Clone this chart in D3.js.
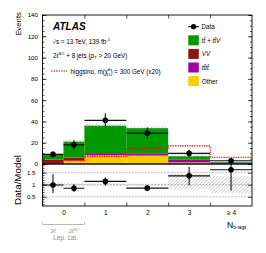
<!DOCTYPE html>
<html>
<head>
<meta charset="utf-8">
<script src="https://cdn.jsdelivr.net/npm/d3@7"></script>
<style>
  body { margin: 0; background: #fff; }
  svg { display: block; font-family: "Liberation Sans", Arial, sans-serif; }
</style>
</head>
<body>
<div id="chart"></div>
<script>
// bins: the 0 b-tag bin is split into the 3l and 2lSC lepton categories
const binLo = [-0.5, 0, 0.5, 1.5, 2.5, 3.5];
const binHi = [0, 0.5, 1.5, 2.5, 3.5, 4.5];
const xTicks = [0, 1, 2, 3, 4];
const xTickLabels = ["0", "1", "2", "3", "≥ 4"];
const edgeTicks = [0.5, 1.5, 2.5, 3.5];

// stacked backgrounds (events)
const other = [0.3, 3.2, 8.2, 7.8, 1.4, 0.5];
const vv = [3.9, 2.4, 0.2, 0.2, 0.1, 0.05];
const tttt = [0.1, 0.4, 1.8, 2.0, 2.8, 0.9];
const ttV = [4.8, 15.0, 25.8, 23.7, 3.0, 0.4];
const signal = [null, 3, 7.2, 14.8, 17, 6.3];

const dataY = [9, 18, 41, 29, 10, 3];
const dataErr = [3, 4.4, 6.6, 5.4, 3.2, 1.7];

// data/model panel
const ratioErrUp = [0.45, 0.16, 0.17, 0.13, 0.37, 0.6];
const ratioErrDn = [0.33, 0.16, 0.17, 0.13, 0.4, 0.86];
const bandUp = [0.1, 0.07, 0.05, 0.05, 0.45, 0.35];
const bandDn = [0.1, 0.07, 0.05, 0.05, 0.2, 0.35];

const yTicks = [0, 20, 40, 60, 80, 100, 120, 140];
const yMinor = d3.range(0, 141, 5);
const rTicks = [0.5, 1, 1.5];
const rMinor = d3.range(0.2, 1.85, 0.1);

const keys = ["other", "vv", "tttt", "ttV"];
const colors = { other: "#ffcc00", vv: "#8b1515", tttt: "#a000a0", ttV: "#009a00" };
const sigColor = "#ff0000";

const W = 266, H = 253;
const pad = { l: 42.5, r: 252, t: 15, mid: 164, b: 206 };

const svg = d3.select("#chart").append("svg").attr("width", W).attr("height", H);
const defs = svg.append("defs");
defs
  .append("pattern")
  .attr("id", "hatch")
  .attr("patternUnits", "userSpaceOnUse")
  .attr("width", 2.4)
  .attr("height", 2.4)
  .attr("patternTransform", "rotate(45)")
  .append("line")
  .attr("x1", 0).attr("y1", 0).attr("x2", 0).attr("y2", 2.4)
  .attr("stroke", "#8a8a8a")
  .attr("stroke-width", 0.7);
defs.append("clipPath").attr("id", "clipMain").append("rect")
  .attr("x", pad.l).attr("y", pad.t).attr("width", pad.r - pad.l).attr("height", pad.mid - pad.t);
defs.append("clipPath").attr("id", "clipRatio").append("rect")
  .attr("x", pad.l).attr("y", pad.mid).attr("width", pad.r - pad.l).attr("height", pad.b - pad.mid);

const x = d3.scaleLinear().domain([-0.5, 4.5]).range([pad.l, pad.r]);
const y = d3.scaleLinear().domain([0, 140]).range([pad.mid, pad.t]);
const yr = d3.scaleLinear().domain([0.12, 1.86]).range([pad.b, pad.mid]);

const rows = binLo.map((lo, i) => ({
  lo, hi: binHi[i], mid: (lo + binHi[i]) / 2,
  other: other[i], vv: vv[i], tttt: tttt[i], ttV: ttV[i],
  data: dataY[i], err: dataErr[i], sig: signal[i],
  rUp: ratioErrUp[i], rDn: ratioErrDn[i], bUp: bandUp[i], bDn: bandDn[i],
}));
rows.forEach((d) => {
  d.total = keys.reduce((a, k) => a + d[k], 0);
  d.ratio = d.data / d.total;
});

// ---------- main panel ----------
const main = svg.append("g").attr("clip-path", "url(#clipMain)");
const series = d3.stack().keys(keys)(rows);
main
  .selectAll("g.layer")
  .data(series)
  .join("g")
  .attr("class", "layer")
  .attr("fill", (s) => colors[s.key])
  .selectAll("rect")
  .data((s) => s)
  .join("rect")
  .attr("x", (d) => x(d.data.lo))
  .attr("width", (d) => x(d.data.hi) - x(d.data.lo))
  .attr("y", (d) => y(d[1]))
  .attr("height", (d) => y(d[0]) - y(d[1]));

main
  .selectAll("rect.band")
  .data(rows)
  .join("rect")
  .attr("class", "band")
  .attr("fill", "url(#hatch)")
  .attr("x", (d) => x(d.lo))
  .attr("width", (d) => x(d.hi) - x(d.lo))
  .attr("y", (d) => y(d.total * (1 + d.bUp)))
  .attr("height", (d) => y(d.total * (1 - d.bDn)) - y(d.total * (1 + d.bUp)));

// signal step histogram
const sigRows = rows.filter((d) => d.sig !== null);
const sigPts = [[sigRows[0].lo, 0]];
sigRows.forEach((d) => { sigPts.push([d.lo, d.sig], [d.hi, d.sig]); });
main
  .append("path")
  .attr("d", d3.line().x((p) => x(p[0])).y((p) => y(p[1]))(sigPts))
  .attr("fill", "none")
  .attr("stroke", sigColor)
  .attr("stroke-width", 1.1)
  .attr("stroke-dasharray", "1.4,1");

const drawPoints = (g, yScale, val, up, dn) => {
  const pts = g.selectAll("g.pt").data(rows).join("g").attr("class", "pt");
  pts.append("line")
    .attr("x1", (d) => x(d.lo)).attr("x2", (d) => x(d.hi))
    .attr("y1", (d) => yScale(val(d))).attr("y2", (d) => yScale(val(d)))
    .attr("stroke", "#111").attr("stroke-width", 1.1);
  pts.append("line")
    .attr("x1", (d) => x(d.mid)).attr("x2", (d) => x(d.mid))
    .attr("y1", (d) => yScale(val(d) + up(d))).attr("y2", (d) => yScale(val(d) - dn(d)))
    .attr("stroke", "#111").attr("stroke-width", 1.1);
  pts.append("circle")
    .attr("cx", (d) => x(d.mid)).attr("cy", (d) => yScale(val(d)))
    .attr("r", 2.8).attr("fill", "#000");
};
drawPoints(main, y, (d) => d.data, (d) => d.err, (d) => d.err);

// ---------- ratio panel ----------
const ratio = svg.append("g").attr("clip-path", "url(#clipRatio)");
ratio
  .selectAll("line.grid")
  .data(rTicks)
  .join("line")
  .attr("class", "grid")
  .attr("x1", pad.l).attr("x2", pad.r)
  .attr("y1", (d) => yr(d)).attr("y2", (d) => yr(d))
  .attr("stroke", "#999").attr("stroke-width", 0.7).attr("stroke-dasharray", "2,1.2");
ratio
  .selectAll("rect.band")
  .data(rows)
  .join("rect")
  .attr("class", "band")
  .attr("fill", "url(#hatch)")
  .attr("x", (d) => x(d.lo))
  .attr("width", (d) => x(d.hi) - x(d.lo))
  .attr("y", (d) => yr(1 + d.bUp))
  .attr("height", (d) => yr(1 - d.bDn) - yr(1 + d.bUp));
drawPoints(ratio, yr, (d) => d.ratio, (d) => d.rUp, (d) => d.rDn);

// ---------- axes and frames ----------
const fontTick = 6.2;
const styleAxis = (g) => {
  g.select(".domain").remove();
  g.attr("font-size", fontTick).attr("font-family", null);
  g.selectAll("line").attr("stroke", "#000").attr("stroke-width", 0.7);
  g.selectAll("text").attr("fill", "#000");
};
svg.append("g").attr("transform", `translate(${pad.l},0)`)
  .call(d3.axisLeft(y).tickValues(yTicks).tickSizeInner(-4).tickSizeOuter(0).tickPadding(4.5)).call(styleAxis);
svg.append("g").attr("transform", `translate(${pad.l},0)`)
  .call(d3.axisLeft(y).tickValues(yMinor).tickSizeInner(-2).tickSizeOuter(0).tickFormat("")).call(styleAxis);
svg.append("g").attr("transform", `translate(${pad.r},0)`)
  .call(d3.axisLeft(y).tickValues(yTicks).tickSizeInner(4).tickSizeOuter(0).tickFormat("")).call(styleAxis);
svg.append("g").attr("transform", `translate(${pad.r},0)`)
  .call(d3.axisLeft(y).tickValues(yMinor).tickSizeInner(2).tickSizeOuter(0).tickFormat("")).call(styleAxis);

svg.append("g").attr("transform", `translate(${pad.l},0)`)
  .call(d3.axisLeft(yr).tickValues(rTicks).tickFormat(d3.format("")).tickSizeInner(-4).tickSizeOuter(0).tickPadding(7)).call(styleAxis);
svg.append("g").attr("transform", `translate(${pad.l},0)`)
  .call(d3.axisLeft(yr).tickValues(rMinor).tickSizeInner(-2).tickSizeOuter(0).tickFormat("")).call(styleAxis);
svg.append("g").attr("transform", `translate(${pad.r},0)`)
  .call(d3.axisLeft(yr).tickValues(rTicks).tickSizeInner(4).tickSizeOuter(0).tickFormat("")).call(styleAxis);

svg.append("g").attr("transform", `translate(0,${pad.b})`)
  .call(d3.axisBottom(x).tickValues(xTicks).tickSize(0).tickPadding(4.5).tickFormat((d) => xTickLabels[d])).call(styleAxis)
  .attr("font-size", 6.5);
svg.append("g").attr("transform", `translate(0,${pad.b})`)
  .call(d3.axisBottom(x).tickValues(edgeTicks).tickSizeInner(-3.5).tickSizeOuter(0).tickFormat("")).call(styleAxis);
svg.append("g").attr("transform", `translate(0,${pad.t})`)
  .call(d3.axisTop(x).tickValues(edgeTicks).tickSizeInner(-3.5).tickSizeOuter(0).tickFormat("")).call(styleAxis);

[[pad.t, pad.mid], [pad.mid, pad.b]].forEach(([t, b]) => {
  svg.append("rect")
    .attr("x", pad.l).attr("y", t).attr("width", pad.r - pad.l).attr("height", b - t)
    .attr("fill", "none").attr("stroke", "#000").attr("stroke-width", 0.9);
});

// axis titles
svg.append("text")
  .attr("transform", "translate(20.5,12) rotate(-90)")
  .attr("text-anchor", "end").attr("font-size", 7.8)
  .text("Events");
svg.append("text")
  .attr("transform", "translate(20.5,180) rotate(-90)")
  .attr("text-anchor", "middle").attr("font-size", 8.2)
  .attr("textLength", 50).attr("lengthAdjust", "spacingAndGlyphs")
  .text("Data/Model");
const nb = svg.append("text").attr("x", 227).attr("y", 227.5).attr("font-size", 8.5);
nb.append("tspan").text("N");
nb.append("tspan").attr("font-size", 4.8).attr("dy", 1.5).text("b-tags");

// lepton category bracket
const grey = "#8c8c8c";
const br = svg.append("g").attr("stroke", grey).attr("stroke-width", 0.6).attr("fill", "none");
br.append("path").attr("d", `M${x(-0.5)},${222} V${224.5} H${x(0.5)} V${222}`);
const lepText = svg.append("g").attr("fill", grey).attr("font-size", 6);
const t3l = lepText.append("text").attr("x", x(-0.25)).attr("y", 233).attr("text-anchor", "middle").attr("font-style", "italic");
t3l.text("3ℓ");
const t2l = lepText.append("text").attr("x", x(0.25)).attr("y", 233).attr("text-anchor", "middle").attr("font-style", "italic");
t2l.append("tspan").text("2ℓ");
t2l.append("tspan").attr("font-size", 4).attr("dy", -2.5).text("SC");
lepText.append("text").attr("x", x(0.05)).attr("y", 240).attr("text-anchor", "middle").attr("font-size", 6.4).text("Lep. cat.");

// top-left labels
svg.append("text").attr("x", 53).attr("y", 29.5).attr("font-size", 10)
  .attr("font-weight", "bold").attr("font-style", "italic").text("ATLAS");
const fs = 6.3;
const l1 = svg.append("text").attr("x", 52.5).attr("y", 43.5).attr("font-size", fs);
l1.append("tspan").text("√s = 13 TeV, 139 fb");
l1.append("tspan").attr("font-size", 4.3).attr("dy", -2.6).text("-1");
const l2 = svg.append("text").attr("x", 53).attr("y", 57.5).attr("font-size", fs);
l2.append("tspan").text("2ℓ");
l2.append("tspan").attr("font-size", 4.3).attr("dy", -2.6).text("SC");
l2.append("tspan").attr("dy", 2.6).text(" + 8 jets (");
l2.append("tspan").attr("font-style", "italic").text("p");
l2.append("tspan").attr("font-size", 4.3).attr("dy", 1.4).text("T");
l2.append("tspan").attr("dy", -1.4).text(" > 20 GeV)");
svg.append("line").attr("x1", 51).attr("x2", 67).attr("y1", 71).attr("y2", 71)
  .attr("stroke", sigColor).attr("stroke-width", 1.2).attr("stroke-dasharray", "1.5,1");
const l3 = svg.append("text").attr("x", 70.5).attr("y", 73.8).attr("font-size", fs);
l3.append("tspan").text("higgsino, m(χ̃");
l3.append("tspan").attr("font-size", 4).attr("dy", -2.6).text("0");
l3.append("tspan").attr("font-size", 4).attr("dx", -2.2).attr("dy", 4.4).text("1");
l3.append("tspan").attr("dy", -1.8).text(") = 300 GeV (x20)");

// legend
const legX = 188.3, legT = 35.3, legStep = 13.6;
const legItems = [
  { key: "ttV", label: "tt̄ + tt̄V", italic: true },
  { key: "vv", label: "VV", italic: true },
  { key: "tttt", label: "tt̄tt̄", italic: true },
  { key: "other", label: "Other", italic: false },
];
const leg = svg.append("g").attr("font-size", fs);
leg.append("line").attr("x1", legX).attr("x2", legX + 10.5).attr("y1", 26.7).attr("y2", 26.7)
  .attr("stroke", "#000").attr("stroke-width", 1.1);
leg.append("circle").attr("cx", legX + 5.2).attr("cy", 26.7).attr("r", 2.6);
leg.append("text").attr("x", 201.5).attr("y", 29).text("Data");
const li = leg.selectAll("g.item").data(legItems).join("g").attr("class", "item")
  .attr("transform", (d, i) => `translate(${legX},${legT + i * legStep})`);
li.append("rect").attr("width", 10.5).attr("height", 10).attr("fill", (d) => colors[d.key]);
li.append("text").attr("x", 13.5).attr("y", 7.6)
  .attr("font-style", (d) => (d.italic ? "italic" : null)).text((d) => d.label);
</script>
</body>
</html>
